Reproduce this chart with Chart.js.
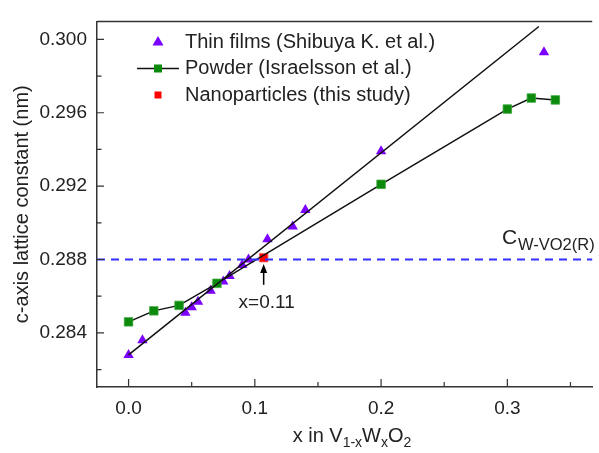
<!DOCTYPE html>
<html>
<head>
<meta charset="utf-8">
<script src="https://cdn.jsdelivr.net/npm/chart.js@4.4.1/dist/chart.umd.min.js"></script>
<style>
  html, body { margin: 0; padding: 0; background: #fff; }
</style>
</head>
<body>
<canvas id="chart" width="599" height="453"></canvas>
<script>
// data
const thinX = [0, 0.011, 0.045, 0.05, 0.055, 0.065, 0.075, 0.08, 0.09, 0.095, 0.11, 0.13, 0.14, 0.2, 0.329];
const thinY = [0.2828, 0.2836, 0.2851, 0.2854, 0.2857, 0.2863, 0.2868, 0.2871, 0.2877, 0.2880, 0.2891, 0.2898, 0.2907, 0.2939, 0.2993];
const powderX = [0, 0.02, 0.04, 0.07, 0.2, 0.3, 0.319, 0.338];
const powderY = [0.2846, 0.2852, 0.2855, 0.2867, 0.2921, 0.2962, 0.2968, 0.2967];
const nanoX = [0.107];
const nanoY = [0.2881];
const fitX = [0, 0.325];
const fitY = [0.2828, 0.3007];
const refLineX = [-0.025, 0.368];
const refLineY = [0.288, 0.288];

const xTicks = [0, 0.1, 0.2, 0.3];
const xMinor = [0.05, 0.15, 0.25, 0.35];
const yTicks = [0.284, 0.288, 0.292, 0.296, 0.300];
const yMinor = [0.282, 0.286, 0.290, 0.294, 0.298];

const pts = (xs, ys) => xs.map((x, i) => ({ x: x, y: ys[i] }));

const PURPLE = '#7b00ff';
const GREEN = '#0b8a0b';
const RED = '#ff0000';
const BLUE = '#3030ff';
const AXIS = '#333';
const FONT = '"Liberation Sans", Arial, sans-serif';

const extras = {
  id: 'extras',
  afterDraw(chart) {
    const ctx = chart.ctx;
    const xs = chart.scales.x, ys = chart.scales.y;
    const area = chart.chartArea;
    ctx.save();
    // top frame line
    ctx.strokeStyle = AXIS;
    ctx.lineWidth = 1.5;
    ctx.beginPath();
    ctx.moveTo(area.left, area.top);
    ctx.lineTo(area.right, area.top);
    ctx.stroke();

    // inward ticks
    ctx.lineWidth = 1.2;
    ctx.beginPath();
    xTicks.forEach(v => { const p = xs.getPixelForValue(v); ctx.moveTo(p, area.bottom); ctx.lineTo(p, area.bottom - 8); });
    xMinor.forEach(v => { const p = xs.getPixelForValue(v); ctx.moveTo(p, area.bottom); ctx.lineTo(p, area.bottom - 5); });
    yTicks.forEach(v => { const p = ys.getPixelForValue(v); ctx.moveTo(area.left, p); ctx.lineTo(area.left + 7, p); });
    yMinor.forEach(v => { const p = ys.getPixelForValue(v); ctx.moveTo(area.left, p); ctx.lineTo(area.left + 4.5, p); });
    ctx.stroke();

    // legend
    ctx.fillStyle = '#222';
    ctx.font = '20px ' + FONT;
    ctx.textBaseline = 'middle';
    ctx.textAlign = 'left';
    const lx = 185, rows = [42, 68.5, 95];
    ctx.fillText('Thin films (Shibuya K. et al.)', lx, rows[0]);
    ctx.fillText('Powder (Israelsson et al.)', lx, rows[1]);
    ctx.fillText('Nanoparticles (this study)', lx, rows[2]);
    // legend symbols
    const sx = 158;
    ctx.fillStyle = PURPLE;
    ctx.beginPath();
    ctx.moveTo(sx, rows[0] - 6); ctx.lineTo(sx + 5.5, rows[0] + 3.5); ctx.lineTo(sx - 5.5, rows[0] + 3.5);
    ctx.closePath(); ctx.fill();
    ctx.strokeStyle = '#111'; ctx.lineWidth = 1.5;
    ctx.beginPath(); ctx.moveTo(137, rows[1]); ctx.lineTo(179, rows[1]); ctx.stroke();
    ctx.fillStyle = GREEN; ctx.fillRect(sx - 4, rows[1] - 4, 8, 8);
    ctx.fillStyle = RED; ctx.fillRect(sx - 3.5, rows[2] - 3.5, 7, 7);

    // arrow and x=0.11 label
    const ax = xs.getPixelForValue(nanoX[0]);
    const tipY = ys.getPixelForValue(0.28775);
    const tailY = ys.getPixelForValue(0.28662);
    ctx.strokeStyle = '#000'; ctx.lineWidth = 1.5;
    ctx.beginPath(); ctx.moveTo(ax, tailY); ctx.lineTo(ax, tipY + 4); ctx.stroke();
    ctx.fillStyle = '#000';
    ctx.beginPath(); ctx.moveTo(ax, tipY); ctx.lineTo(ax + 3.5, tipY + 9); ctx.lineTo(ax - 3.5, tipY + 9); ctx.closePath(); ctx.fill();
    ctx.fillStyle = '#222';
    ctx.font = '19px ' + FONT;
    ctx.textAlign = 'center';
    ctx.fillText('x=0.11', ax + 3, ys.getPixelForValue(0.28563));

    // C W-VO2(R) label
    ctx.textAlign = 'left';
    ctx.textBaseline = 'alphabetic';
    ctx.font = '21px ' + FONT;
    ctx.fillText('C', 502, 244);
    ctx.font = '16.5px ' + FONT;
    ctx.fillText('W-VO2(R)', 518, 250);

    // x axis title with subscripts
    const parts = [['x in V', false], ['1-x', true], ['W', false], ['x', true], ['O', false], ['2', true]];
    let total = 0;
    parts.forEach(p => { ctx.font = (p[1] ? '14px ' : '20px ') + FONT; total += ctx.measureText(p[0]).width; });
    let cx = 352 - total / 2;
    const base = 442;
    parts.forEach(p => {
      ctx.font = (p[1] ? '14px ' : '20px ') + FONT;
      ctx.fillText(p[0], cx, p[1] ? base + 5 : base);
      cx += ctx.measureText(p[0]).width;
    });
    ctx.restore();
  }
};

new Chart(document.getElementById('chart'), {
  type: 'scatter',
  data: {
    datasets: [
      {
        label: 'ref',
        data: pts(refLineX, refLineY),
        showLine: true,
        borderColor: BLUE,
        borderWidth: 2,
        borderDash: [8, 6],
        pointRadius: 0
      },
      {
        label: 'fit',
        data: pts(fitX, fitY),
        showLine: true,
        borderColor: '#111',
        borderWidth: 1.5,
        pointRadius: 0
      },
      {
        label: 'Powder (Israelsson et al.)',
        data: pts(powderX, powderY),
        showLine: true,
        borderColor: '#111',
        borderWidth: 1.5,
        pointStyle: 'rect',
        pointRadius: 6,
        pointBackgroundColor: GREEN,
        pointBorderColor: '#3aa53a',
        pointBorderWidth: 0.8
      },
      {
        label: 'Thin films (Shibuya K. et al.)',
        data: pts(thinX, thinY),
        showLine: false,
        pointStyle: 'triangle',
        pointRadius: 6,
        pointBackgroundColor: PURPLE,
        pointBorderColor: PURPLE,
        pointBorderWidth: 0
      },
      {
        label: 'Nanoparticles (this study)',
        data: pts(nanoX, nanoY),
        showLine: false,
        pointStyle: 'rect',
        pointRadius: 6,
        pointBackgroundColor: RED,
        pointBorderColor: '#ff6060',
        pointBorderWidth: 0.8
      }
    ]
  },
  options: {
    responsive: false,
    animation: false,
    layout: { padding: { top: 11, right: 0, left: 0, bottom: 0 } },
    plugins: { legend: { display: false }, tooltip: { enabled: false } },
    scales: {
      x: {
        type: 'linear',
        min: -0.025,
        max: 0.3672,
        grid: { display: false, drawTicks: false },
        border: { display: true, color: AXIS, width: 1.5 },
        afterBuildTicks: s => { s.ticks = xTicks.map(v => ({ value: v })); },
        afterFit: s => { s.height = 66; },
        ticks: {
          padding: 10,
          color: '#222',
          font: { family: FONT, size: 19 },
          callback: v => v.toFixed(1)
        }
      },
      y: {
        type: 'linear',
        min: 0.28105,
        max: 0.30098,
        grid: { display: false, drawTicks: false },
        border: { display: true, color: AXIS, width: 1.5 },
        afterBuildTicks: s => { s.ticks = yTicks.map(v => ({ value: v })); },
        afterFit: s => { s.width = 97; },
        title: {
          display: true,
          text: 'c-axis lattice constant (nm)',
          color: '#222',
          font: { family: FONT, size: 20 },
          padding: { top: 10, bottom: 0 }
        },
        ticks: {
          padding: 10,
          color: '#222',
          font: { family: FONT, size: 19 },
          callback: v => v.toFixed(3)
        }
      }
    }
  },
  plugins: [extras]
});
</script>
</body>
</html>
